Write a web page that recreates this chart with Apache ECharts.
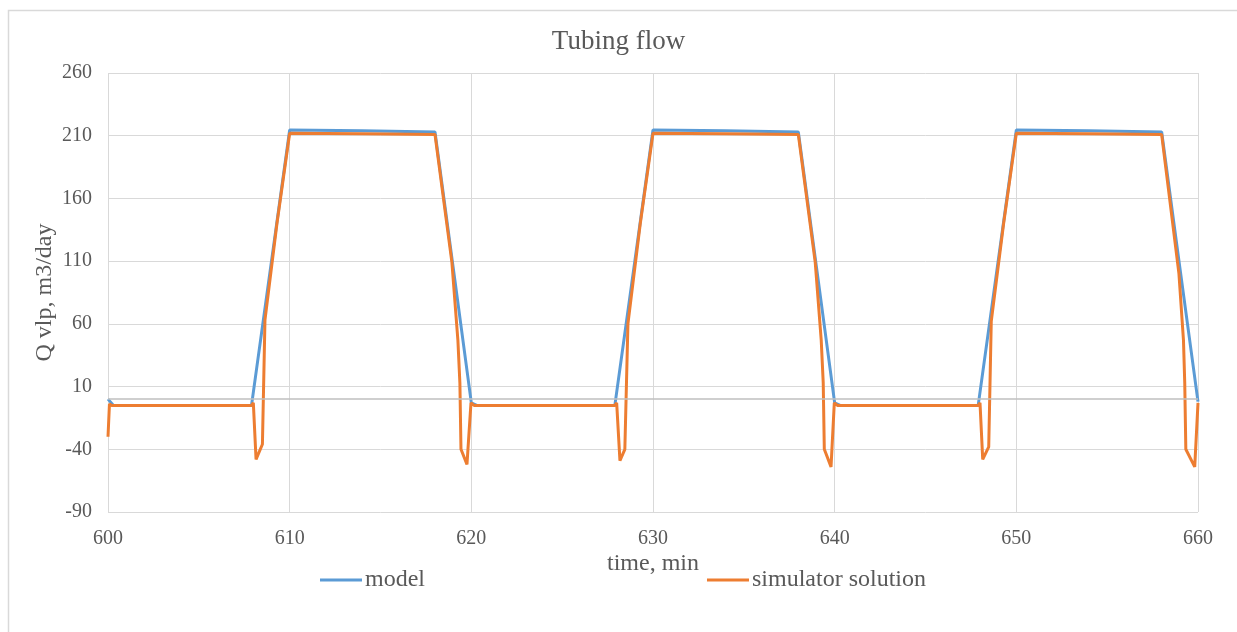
<!DOCTYPE html>
<html>
<head>
<meta charset="utf-8">
<script src="https://cdn.jsdelivr.net/npm/echarts@6/dist/echarts.min.js"></script>
<style>html,body{margin:0;padding:0;background:#fff;}#c{width:1237px;height:632px;}</style>
</head>
<body>
<div id="c"></div>
<script>
// ---- data ----
var xTicks = [600, 610, 620, 630, 640, 650, 660];
var yTicks = [-90, -40, 10, 60, 110, 160, 210, 260];

var modelTime = [600, 600.3, 607.9, 608, 610, 614, 618, 619, 620, 620.3,
                 627.9, 628, 630, 634, 638, 639, 640, 640.3,
                 647.9, 648, 650, 654, 658, 659, 660];
var modelValues = [0, -5, -5, -4, 214.5, 214, 213, 105, -3, -5,
                   -5, -4, 214.5, 214, 213, 105, -3, -5,
                   -5, -4, 214.5, 214, 213, 105, -2];

var simTime = [600, 600.08, 600.2, 607.9, 608, 608.15, 608.5, 608.64, 609.3, 610, 614, 618,
               618.93, 619.26, 619.37, 619.43, 619.76, 619.98, 620.15,
               627.9, 628, 628.18, 628.45, 628.62, 629.3, 630, 634, 638,
               638.93, 639.26, 639.37, 639.43, 639.8, 639.98, 640.15,
               647.9, 648, 648.15, 648.48, 648.62, 649.3, 650, 654, 658,
               658.95, 659.2, 659.27, 659.33, 659.82, 660];
var simValues = [-30, -4, -5, -5, -3, -48, -36, 63, 140, 212, 211.5, 211,
                 109, 47, 13, -40, -52, -3, -5,
                 -5, -3, -49, -40, 60, 140, 212, 211.5, 211,
                 109, 47, 13, -40, -54, -3, -5,
                 -5, -3, -48, -38, 62, 140, 212, 211.5, 211,
                 100, 47, 13, -40, -54, -3];

function pairs(t, v) { return t.map(function (x, i) { return [x, v[i]]; }); }

var font = 'Liberation Serif, Times New Roman, serif';
var txt = '#595959';

var chart = echarts.init(document.getElementById('c'), null, {renderer: 'canvas'});
chart.setOption({
  animation: false,
  backgroundColor: '#ffffff',
  graphic: [{
    type: 'rect', silent: true, z: -10,
    shape: {x: 8.5, y: 10.5, width: 1240, height: 640},
    style: {fill: 'none', stroke: '#d9d9d9', lineWidth: 1.5}
  }],
  title: {
    text: 'Tubing flow', left: 'center', top: 23,
    textStyle: {fontFamily: font, fontSize: 27, fontWeight: 'normal', color: txt}
  },
  legend: {
    data: ['model', 'simulator solution'],
    left: 315, top: 563,
    itemWidth: 42, itemHeight: 3, itemGap: 282,
    icon: 'rect',
    textStyle: {fontFamily: font, fontSize: 24, color: txt, padding: [0, 0, 0, -2]}
  },
  grid: {left: 108, right: 39, top: 73, bottom: 120},
  xAxis: {
    type: 'value', min: xTicks[0], max: xTicks[xTicks.length - 1], interval: 10,
    name: 'time, min', nameLocation: 'middle', nameGap: 40, nameMoveOverlap: false,
    nameTextStyle: {fontFamily: font, fontSize: 24, color: txt},
    axisLine: {show: false}, axisTick: {show: false},
    axisLabel: {fontFamily: font, fontSize: 20, color: txt, margin: 17},
    splitLine: {show: true, lineStyle: {color: '#d9d9d9', width: 1}}
  },
  yAxis: {
    type: 'value', min: yTicks[0], max: yTicks[yTicks.length - 1], interval: 50,
    name: 'Q vlp, m3/day', nameLocation: 'middle', nameGap: 51, nameMoveOverlap: false,
    nameTextStyle: {fontFamily: font, fontSize: 24, color: txt},
    axisLine: {show: false}, axisTick: {show: false},
    axisLabel: {fontFamily: font, fontSize: 20, color: txt, margin: 16},
    splitLine: {show: true, lineStyle: {color: '#d9d9d9', width: 1}}
  },
  series: [
    {
      name: 'zero', type: 'line', data: [], z: 1, silent: true,
      markLine: {
        silent: true, symbol: 'none', label: {show: false},
        lineStyle: {color: '#bfbfbf', width: 1.5, type: 'solid'},
        data: [{yAxis: 0}]
      }
    },
    {
      name: 'model', type: 'line', data: pairs(modelTime, modelValues),
      showSymbol: false, z: 2,
      lineStyle: {color: '#5B9BD5', width: 3}, itemStyle: {color: '#5B9BD5'}
    },
    {
      name: 'simulator solution', type: 'line', data: pairs(simTime, simValues),
      showSymbol: false, z: 3,
      lineStyle: {color: '#ED7D31', width: 3}, itemStyle: {color: '#ED7D31'}
    }
  ]
});
</script>
</body>
</html>
